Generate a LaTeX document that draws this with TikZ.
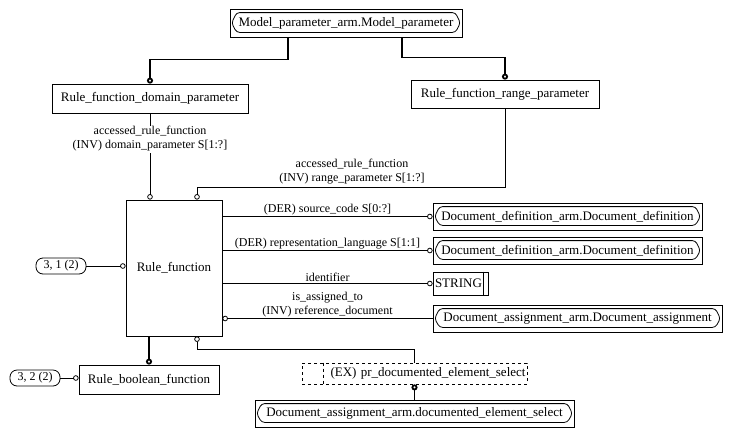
\documentclass[tikz,border=0pt]{standalone}
\usepackage{fontspec}
\setmainfont{Liberation Serif}
\usetikzlibrary{arrows.meta,positioning}

\begin{document}
\begin{tikzpicture}[
    x=1pt, y=-1pt,
    font=\fontsize{12}{14}\selectfont,
    box/.style={rectangle, draw, line width=0.8pt, inner sep=0pt, text centered, font=\fontsize{13}{15}\selectfont},
    extbox/.style={box, minimum height=27pt},
    pill/.style={rectangle, draw, rounded corners=7pt, line width=0.8pt, minimum width=50pt, minimum height=16pt, inner sep=0pt},
    edge/.style={line width=0.8pt, -{Circle[open, length=5.5pt]}},
    thickedge/.style={line width=1.8pt, -{Circle[open, length=6pt]}},
    lab/.style={align=center, inner sep=1pt}
]
    \useasboundingbox (0,0) rectangle (731,437);

    \node[extbox, minimum width=232pt, minimum height=28pt] (mp) at (346,23) {Model\_parameter\_arm.Model\_parameter};
    \node[box, minimum width=196pt, minimum height=29pt] (dom) at (150,98.5) {Rule\_function\_domain\_parameter};
    \node[box, minimum width=188pt, minimum height=28pt] (rng) at (505,94) {Rule\_function\_range\_parameter};
    \node[box, minimum width=96pt, minimum height=136pt] (rf) at (174,268) {Rule\_function};
    \node[extbox, minimum width=269pt] (dd1) at (567.5,216.5) {Document\_definition\_arm.Document\_definition};
    \node[extbox, minimum width=269pt] (dd2) at (567.5,250.5) {Document\_definition\_arm.Document\_definition};
    \node[box, minimum width=55pt, minimum height=23pt, text width=51pt, align=left] (str) at (460.5,283.5) {STRING};
    \node[extbox, minimum width=289pt] (da) at (577.5,318.5) {Document\_assignment\_arm.Document\_assignment};
    \node[box, minimum width=140pt, minimum height=29pt] (rbf) at (149,379.5) {Rule\_boolean\_function};
    \node[pill] (ref31) at (61,266) {3, 1 (2)};
    \node[pill] (ref32) at (35,378) {3, 2 (2)};
    \node[box, dashed, minimum width=225pt, minimum height=21pt, text width=222pt, align=right] (sel) at (414.5,373.5) {(EX) pr\_documented\_element\_select};
    \node[extbox, minimum width=319pt] (des) at (414.5,413.5) {Document\_assignment\_arm.documented\_element\_select};

    \foreach \n in {mp, dd1, dd2, da, des}
        \draw[line width=0.8pt, rounded corners=3pt] ([xshift=7pt, yshift=-4pt]\n.north west) -- ([xshift=-7pt, yshift=-4pt]\n.north east)
            -- ([xshift=-2pt]\n.east) -- ([xshift=-7pt, yshift=5pt]\n.south east)
            -- ([xshift=7pt, yshift=5pt]\n.south west) -- ([xshift=2pt]\n.west) -- cycle;
    \draw[line width=0.8pt] ([xshift=-5pt]str.north east) -- ([xshift=-5pt]str.south east);
    \draw[line width=0.8pt, dashed] ([xshift=22pt]sel.north west) -- ([xshift=22pt]sel.south west);

    \draw[thickedge] ([xshift=-58pt]mp.south) -- ++(0,22) -| (dom.north);
    \draw[thickedge] ([xshift=56pt]mp.south) -- ++(0,20) -| (rng.north);
    \draw[edge] (dom.south) -- (dom.south |- rf.north);
    \node[lab, fill=white] (domlab) at (150,139) {accessed\_rule\_function\\(INV) domain\_parameter S[1:?]};
    \draw[edge] (rng.south) -- ++(0,79) -| ([xshift=23pt]rf.north);
    \node[lab] (rnglab) at (352,172) {accessed\_rule\_function\\(INV) range\_parameter S[1:?]};

    \draw[edge] (rf.east |- dd1.west) -- node[lab, above] {(DER) source\_code S[0:?]} (dd1.west);
    \draw[edge] (rf.east |- dd2.west) -- node[lab, above] {(DER) representation\_language S[1:1]} (dd2.west);
    \draw[edge] (rf.east |- str.west) -- node[lab, above] {identifier} (str.west);
    \draw[edge] (da.west) -- node[lab, above] {is\_assigned\_to\\(INV) reference\_document} (rf.east |- da.west);

    \draw[edge] (ref31.east) -- (rf.west |- ref31.east);
    \draw[edge] (ref32.east) -- (rbf.west |- ref32.east);
    \draw[thickedge] (rf.south -| rbf.north) -- (rbf.north);
    \draw[line width=0.8pt, {Circle[open, length=5.5pt]}-] ([xshift=23pt]rf.south) -- ++(0,13) -| (sel.north);
    \draw[line width=1.8pt, {Circle[open, length=6pt]}-] (sel.south) -- (des.north);
\end{tikzpicture}
\end{document}
